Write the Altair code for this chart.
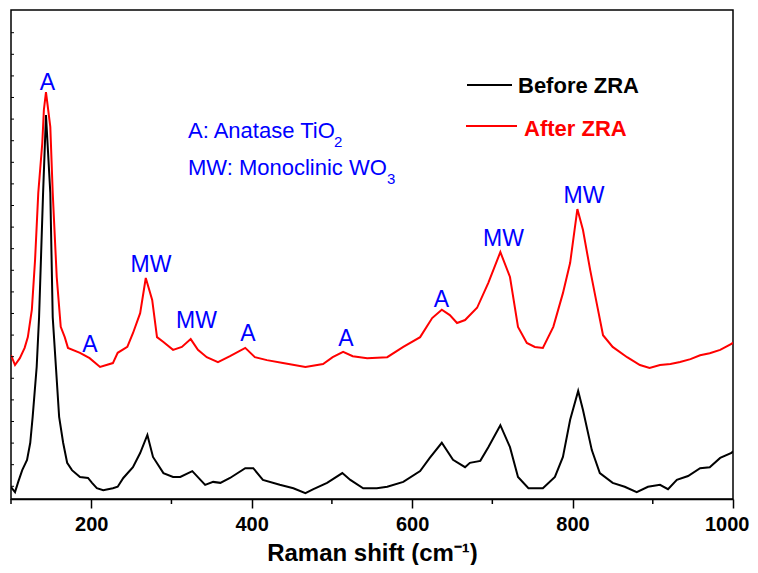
import altair as alt
import pandas as pd

# ---------------- data ----------------
series_names = ["Before ZRA", "After ZRA"]

x_before = [100, 101, 105, 109, 114, 120, 124, 127, 132, 135, 140, 143.6, 149, 152, 156, 160, 165, 170, 176, 186,
            196, 201, 207, 215, 227, 233, 240, 252, 261, 270, 277, 290, 302, 311, 326, 342, 352, 361, 373, 392,
            402, 414, 435, 452, 467, 477, 494, 513, 523, 539, 556, 569, 589, 610, 622, 637, 651, 666, 672, 685,
            695, 710, 722, 732, 745, 763, 778, 788, 797, 807, 813, 824, 834, 850, 865, 880, 894, 909, 919, 930,
            944, 959, 971, 984, 998, 1000]
y_before = [2.5, 2.2, 1.4, 3.5, 5.9, 8.0, 11.5, 16.8, 27.0, 37.2, 62.6, 78.5, 62.6, 37.2, 27.0, 16.8, 11.5, 7.4, 5.9, 4.5,
            4.3, 3.3, 2.2, 1.8, 2.2, 2.5, 4.3, 6.5, 9.4, 13.1, 8.6, 5.3, 4.5, 4.5, 5.7, 2.9, 3.5, 3.3, 4.3, 6.3,
            6.3, 3.9, 2.9, 2.2, 1.2, 2.0, 3.3, 5.3, 3.9, 2.2, 2.2, 2.5, 3.5, 5.7, 8.4, 11.5, 8.0, 6.5, 7.4, 7.8,
            10.6, 15.1, 10.6, 4.5, 2.2, 2.2, 4.5, 8.6, 16.2, 22.1, 18.2, 10.0, 5.3, 3.3, 2.5, 1.4, 2.5, 2.9, 2.0, 3.9,
            4.7, 6.3, 6.5, 8.4, 9.4, 9.8]

x_after = [100, 101, 105, 111, 117, 121, 126, 130, 134, 139, 141, 143.6, 149, 152, 157, 162, 167, 171, 186, 198,
           211, 227, 233, 245, 252, 261, 268, 276, 282, 290, 302, 313, 324, 333, 344, 358, 373, 392, 404, 419,
           439, 467, 489, 501, 514, 526, 544, 569, 589, 610, 625, 637, 647, 656, 666, 681, 695, 710, 722, 732,
           743, 753, 763, 776, 788, 797, 806, 813, 822, 831, 838, 850, 868, 884, 896, 909, 922, 934, 947, 959,
           971, 984, 998, 1000]
y_after = [29.4, 29.0, 27.4, 28.8, 30.9, 33.1, 38.7, 48.9, 62.6, 72.8, 79.6, 83.2, 76.1, 62.6, 45.4, 35.2, 33.1, 30.9, 29.9, 28.8,
           27.0, 27.8, 29.9, 31.1, 33.9, 38.0, 45.2, 40.7, 33.1, 32.1, 30.5, 31.1, 32.7, 30.5, 29.0, 28.0, 29.2, 30.9, 29.0, 28.4,
           27.8, 27.0, 27.6, 29.0, 30.1, 29.2, 28.8, 29.0, 31.1, 33.1, 37.0, 38.7, 37.6, 36.0, 36.6, 39.1, 44.2, 50.5, 45.4, 35.2,
           31.9, 31.1, 30.9, 35.2, 42.1, 48.3, 59.3, 55.0, 46.8, 39.3, 33.5, 31.1, 29.0, 27.4, 26.8, 27.4, 27.6, 28.0, 28.6, 29.4,
           29.8, 30.5, 31.7, 32.0]

peak_labels = ["A", "A", "MW", "MW", "A", "A", "A", "MW", "MW"]
peak_x = [145.5, 198.5, 274.5, 331.2, 395.4, 517.6, 636.6, 713.9, 814.3]
peak_y = [83.6, 30.1, 46.4, 35.0, 32.3, 31.3, 39.3, 51.7, 60.5]

x_major = [200, 400, 600, 800, 1000]
x_minor = [100, 300, 500, 700, 900]
y_ticks = [round(2.6 + 4.417 * k, 2) for k in range(22)]

note_lines = ["A: Anatase TiO", "MW: Monoclinic WO"]
note_subs = ["2", "3"]

# ---------------- chart ----------------
FONT = "Liberation Sans"
BLUE = "#0000FF"
W, H = 722, 489

df = pd.concat([
    pd.DataFrame({"shift": x_before, "intensity": y_before, "series": series_names[0]}),
    pd.DataFrame({"shift": x_after, "intensity": y_after, "series": series_names[1]}),
])

xs = alt.Scale(domain=[100, 1000], nice=False, zero=False)
ys = alt.Scale(domain=[0, 100], nice=False, zero=False)

x_enc = alt.X(
    "shift:Q", scale=xs,
    axis=alt.Axis(values=x_major, format="d", tickSize=9, tickWidth=1.5, tickColor="black",
                  labelFont=FONT, labelFontSize=20, labelFontWeight="bold", labelColor="black",
                  labelPadding=6, labelFlush=True, labelFlushOffset=16, labelOverlap=False,
                  domain=True, domainColor="black",
                  domainWidth=1.5, grid=False, title="Raman shift (cm⁻¹)", titleFont=FONT, titleFontSize=24,
                  titleFontWeight="bold", titleColor="black", titleBaseline="alphabetic", titleY=61),
)
y_enc = alt.Y("intensity:Q", scale=ys, axis=None)

lines = alt.Chart(df).mark_line(strokeWidth=2, clip=True).encode(
    x=x_enc, y=y_enc,
    color=alt.Color("series:N", scale=alt.Scale(domain=series_names, range=["#000000", "#FF0000"]), legend=None),
)

peaks = alt.Chart(pd.DataFrame({"shift": peak_x, "intensity": peak_y, "label": peak_labels})).mark_text(
    font=FONT, fontSize=23, color=BLUE, align="center", baseline="alphabetic"
).encode(x=x_enc, y=y_enc, text="label:N")

yt = alt.Chart(pd.DataFrame({"intensity": y_ticks})).mark_rule(color="black", strokeWidth=1).encode(
    y=y_enc, x=alt.value(0), x2=alt.value(3))

xminor = alt.Chart(pd.DataFrame({"shift": x_minor})).mark_rule(color="black", strokeWidth=1.5).encode(
    x=x_enc, y=alt.value(H), y2=alt.value(H + 5))


def txt(t, x, y, size, color, weight="normal"):
    return alt.Chart(pd.DataFrame({"t": [t]})).mark_text(
        font=FONT, fontSize=size, color=color, fontWeight=weight, align="left", baseline="alphabetic"
    ).encode(x=alt.value(x), y=alt.value(y), text="t:N")


def seg(x1, x2, y, color):
    return alt.Chart(pd.DataFrame({"t": [0]})).mark_rule(color=color, strokeWidth=2).encode(
        x=alt.value(x1), x2=alt.value(x2), y=alt.value(y))


notes = [
    txt(note_lines[0], 177, 128, 22, BLUE),
    txt(note_subs[0], 323, 137, 15, BLUE),
    txt(note_lines[1], 177, 165, 22, BLUE),
    txt(note_subs[1], 376, 174, 15, BLUE),
]
legend = [
    seg(456, 501, 75, "black"),
    txt(series_names[0], 507, 83, 22, "black", "bold"),
    seg(455, 506, 116, "#FF0000"),
    txt(series_names[1], 513, 126, 22, "#FF0000", "bold"),
]

chart = alt.layer(lines, peaks, yt, xminor, *notes, *legend).properties(
    width=W, height=H,
    autosize=alt.AutoSizeParams(type="none"),
    padding={"left": 3, "top": 2, "right": 17, "bottom": 66},
    background="white",
).configure_view(stroke="black", strokeWidth=1.5)

chart.save("out.html", embed_options={"renderer": "svg", "actions": False})
